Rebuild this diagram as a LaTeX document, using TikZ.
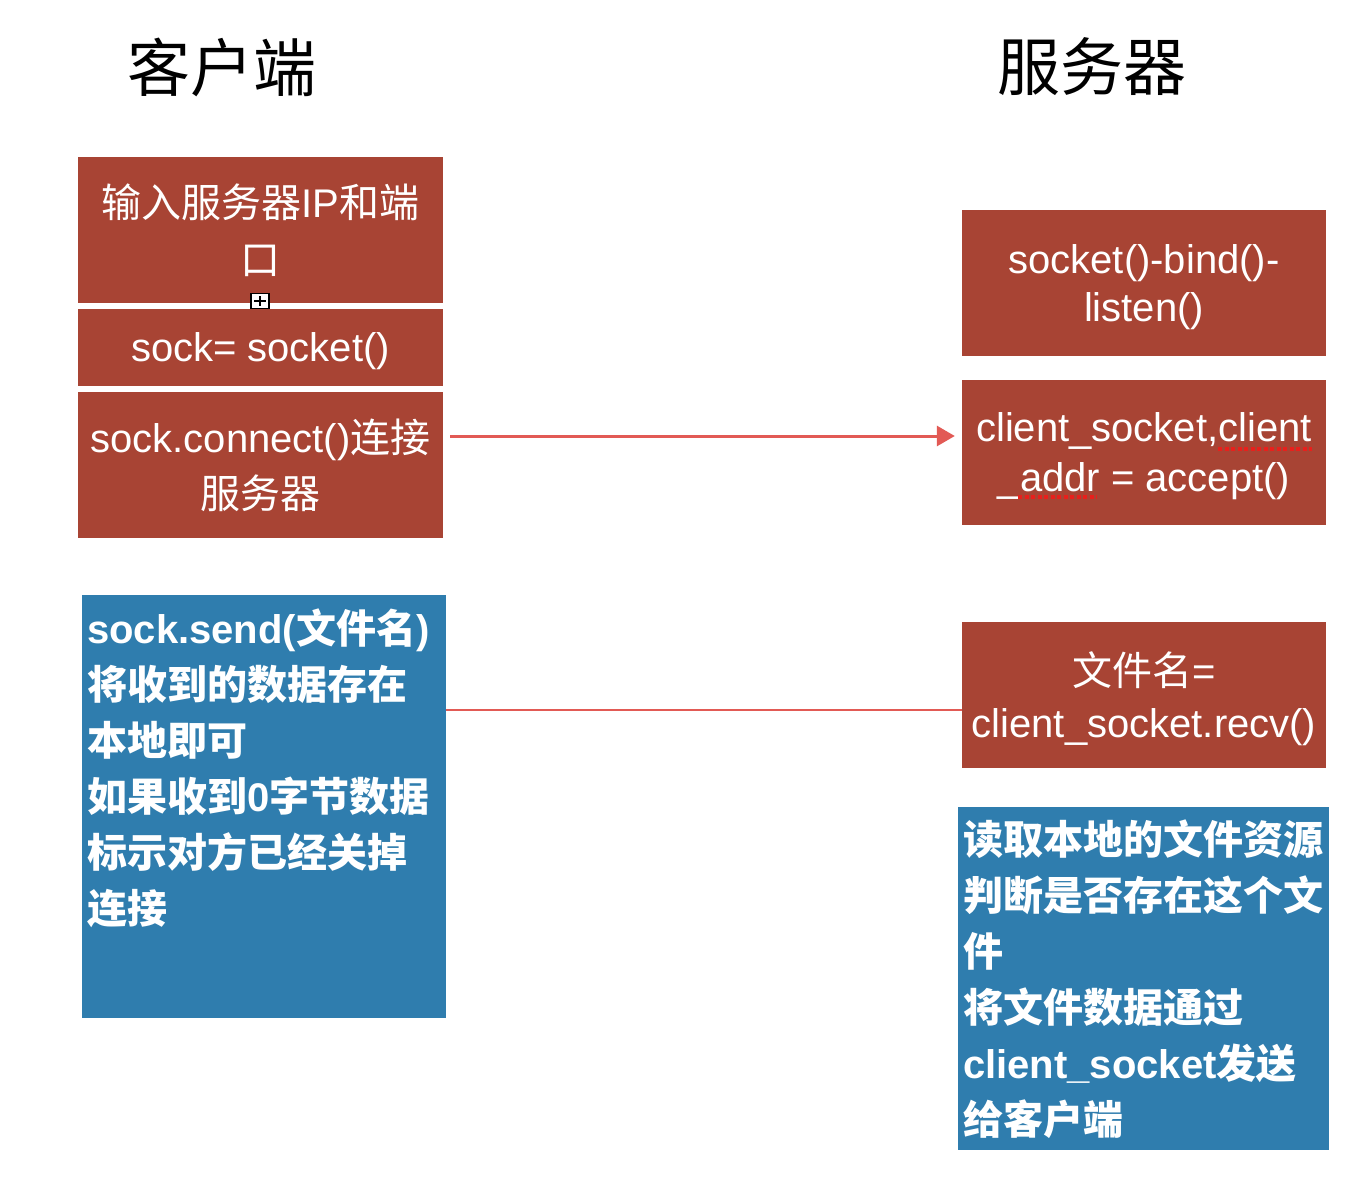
\documentclass[tikz,border=0pt]{standalone}
\usepackage{fontspec}
\setmainfont{Liberation Sans}
\newfontfamily\cjk{Noto Sans CJK SC}
\usetikzlibrary{arrows.meta,calc}
\definecolor{boxred}{HTML}{A84434}
\definecolor{boxblue}{HTML}{2F7DAE}
\definecolor{linkred}{HTML}{E25A55}
\definecolor{wavyred}{HTML}{E8201C}
\begin{document}
\begin{tikzpicture}[x=1pt,y=-1pt,
  redbox/.style={fill=boxred, draw=none, inner sep=0pt, text=white, align=center,
    minimum width=365pt},
  bluebox/.style={fill=boxblue, draw=none, inner sep=0pt},
  bluetext/.style={text=white, align=left, inner sep=0pt, anchor=north west,
    font=\bfseries\fontsize{40}{56}\selectfont},
  title/.style={font=\cjk\fontsize{63}{70}\selectfont, inner sep=0pt},
  link/.style={draw=linkred, line width=3pt},
  spell/.style={draw=wavyred, line width=3.5pt, dash pattern=on 4pt off 2.5pt}]
\useasboundingbox[fill=white] (0,0) rectangle (1366,1194);

% titles
\node[title] (tclient) at (222,67) {客户端};
\node[title] (tserver) at (1092,67) {服务器};

% client red boxes
\node[redbox, minimum height=146pt, font=\fontsize{40}{57}\selectfont] (box1) at (260.5,230)
  {{\cjk 输入服务器}IP{\cjk 和端}\\{\cjk 口}};
\node[redbox, minimum height=77pt, text depth=0pt, font=\fontsize{40}{50}\selectfont] (box2) at (260.5,347.5)
  {sock= socket()};
\node[redbox, minimum height=146pt, font=\fontsize{40}{56}\selectfont] (box3) at (260.5,465)
  {sock.connect(){\cjk 连接}\\{\cjk 服务器}};

% small handle
\node[draw=black, line width=1.5pt, fill=white, minimum width=18pt, minimum height=15pt,
  inner sep=0pt] (handle) at (260,301) {};
\draw[line width=1.5pt] ($(handle.center)+(-6,0)$) -- ($(handle.center)+(6,0)$);
\draw[line width=1.5pt] ($(handle.center)+(0,-5)$) -- ($(handle.center)+(0,5)$);

% server red boxes
\node[redbox, minimum width=364pt, minimum height=146pt, text depth=0pt, font=\fontsize{40}{48}\selectfont] (reds1) at (1144,283)
  {socket()-bind()-\\listen()};
\node[redbox, minimum width=364pt, minimum height=145pt, text depth=0pt, font=\fontsize{40}{50}\selectfont] (reds2) at (1144,452.5)
  {client\_socket,client\\\_addr = accept()};
\node[redbox, minimum width=364pt, minimum height=146pt, text depth=0pt, font=\fontsize{40}{52}\selectfont] (reds3) at (1144,695)
  {{\cjk 文件名}=\\client\_socket.recv()};

% spell-check underlines
\draw[spell] (1218,449) -- (1312,449);
\draw[spell] (1018,497) -- (1097,497);

% blue boxes
\node[bluebox, minimum width=364pt, minimum height=423pt] (blue1) at (264,806.5) {};
\node[bluetext] (blue1t) at (87,609)
  {sock.send({\cjk 文件名})\\
   {\cjk 将收到的数据存在}\\
   {\cjk 本地即可}\\
   {\cjk 如果收到}0{\cjk 字节数据}\\
   {\cjk 标示对方已经关掉}\\
   {\cjk 连接}};

\node[bluebox, minimum width=371pt, minimum height=343pt] (blue2) at (1143.5,978.5) {};
\node[bluetext] (blue2t) at (963,820)
  {{\cjk 读取本地的文件资源}\\
   {\cjk 判断是否存在这个文}\\
   {\cjk 件}\\
   {\cjk 将文件数据通过}\\
   client\_socket{\cjk 发送}\\
   {\cjk 给客户端}};

% connectors
\coordinate (a1) at (0,436);
\coordinate (l2) at (0,710);
\draw[link, -{Triangle[length=18pt,width=20pt]}]
  ($(box3.east |- a1)+(7,0)$) -- ($(reds2.west |- a1)+(-7,0)$);
\draw[link, line width=2.5pt] (blue1.east |- l2) -- (reds3.west |- l2);
\end{tikzpicture}
\end{document}
